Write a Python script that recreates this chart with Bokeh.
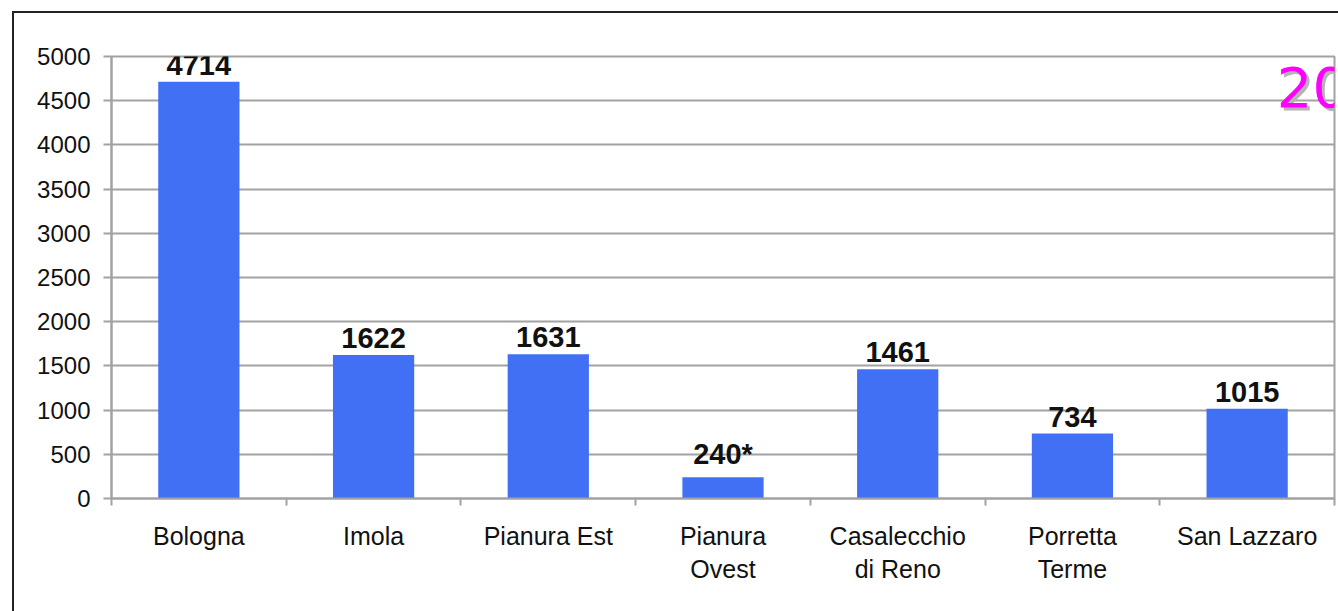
from bokeh.plotting import figure
from bokeh.models import Range1d, FixedTicker, InlineStyleSheet, ColumnDataSource, LabelSet
from bokeh.core.properties import value
from bokeh.embed import file_html
from bokeh.resources import INLINE

categories = ["Bologna", "Imola", "Pianura Est", "Pianura\nOvest", "Casalecchio\ndi Reno", "Porretta\nTerme", "San Lazzaro"]
values = [4714, 1622, 1631, 240, 1461, 734, 1015]
value_labels = ["4714", "1622", "1631", "240*", "1461", "734", "1015"]
y_ticks = [0, 500, 1000, 1500, 2000, 2500, 3000, 3500, 4000, 4500, 5000]
year_text = "20"

n = len(categories)
xs = [i + 0.5 for i in range(n)]

FONT = "Liberation Sans"
GRAY = "#a2a2a2"

p = figure(width=1338, height=611, x_range=Range1d(0, n), y_range=Range1d(0, 5000),
           output_backend="svg", toolbar_location=None,
           min_border_left=111, min_border_right=4, min_border_top=56, min_border_bottom=113,
           background_fill_color="white", border_fill_color="white")

src = ColumnDataSource(dict(x=xs, top=values, label=value_labels))

p.vbar(x="x", top="top", bottom=0, width=0.465, source=src, fill_color="#4170f5", line_color=None)

labels = LabelSet(x="x", y="top", text="label", source=src, text_align="center",
                  text_baseline="bottom", y_offset=7, text_font=value(FONT),
                  text_font_style="bold", text_font_size="29px", text_color="#111111")
p.add_layout(labels)

# year title, clipped at the right edge of the plot area as in the reference
p.text(x=[6.67], y=[4650], text=[year_text], text_align="left", text_baseline="middle",
       x_offset=3, y_offset=3, text_font=value("DejaVu Sans"), text_font_size="56px",
       text_color="#b4b4b4")
p.text(x=[6.67], y=[4650], text=[year_text], text_align="left", text_baseline="middle",
       text_font=value("DejaVu Sans"), text_font_size="56px", text_color="#ff00ff")

# y axis
p.yaxis.ticker = FixedTicker(ticks=y_ticks)
p.yaxis.axis_line_color = GRAY
p.yaxis.axis_line_width = 2
p.yaxis.major_tick_line_color = GRAY
p.yaxis.major_tick_line_width = 2
p.yaxis.major_tick_out = 8
p.yaxis.major_tick_in = 0
p.yaxis.minor_tick_line_color = None
p.yaxis.major_label_text_font = FONT
p.yaxis.major_label_text_font_size = "24px"
p.yaxis.major_label_text_color = "#111111"
p.yaxis.major_label_standoff = 13

# x axis: labels at category centres, ticks at category boundaries
p.xaxis.ticker = FixedTicker(ticks=xs, minor_ticks=list(range(n + 1)))
p.xaxis.major_label_overrides = {x: c for x, c in zip(xs, categories)}
p.xaxis.axis_line_color = GRAY
p.xaxis.axis_line_width = 2
p.xaxis.major_tick_line_color = None
p.xaxis.minor_tick_line_color = GRAY
p.xaxis.minor_tick_line_width = 2
p.xaxis.minor_tick_out = 7
p.xaxis.minor_tick_in = 0
p.xaxis.major_label_text_font = FONT
p.xaxis.major_label_text_font_size = "25px"
p.xaxis.major_label_text_color = "#111111"
p.xaxis.major_label_standoff = 16

p.xgrid.visible = False
p.ygrid.ticker = FixedTicker(ticks=y_ticks)
p.ygrid.grid_line_color = GRAY
p.ygrid.grid_line_width = 2

p.outline_line_color = GRAY
p.outline_line_width = 2

# outer chart border (only its top and left edges fall inside the picture)
p.stylesheets = [InlineStyleSheet(css="""
:host { position: relative; }
:host::after {
  content: ''; position: absolute; left: 12px; top: 11px;
  width: 1400px; height: 700px; border: 2px solid #222;
  box-sizing: border-box; pointer-events: none;
}
""")]

open("out.html", "w").write(file_html(p, INLINE))
